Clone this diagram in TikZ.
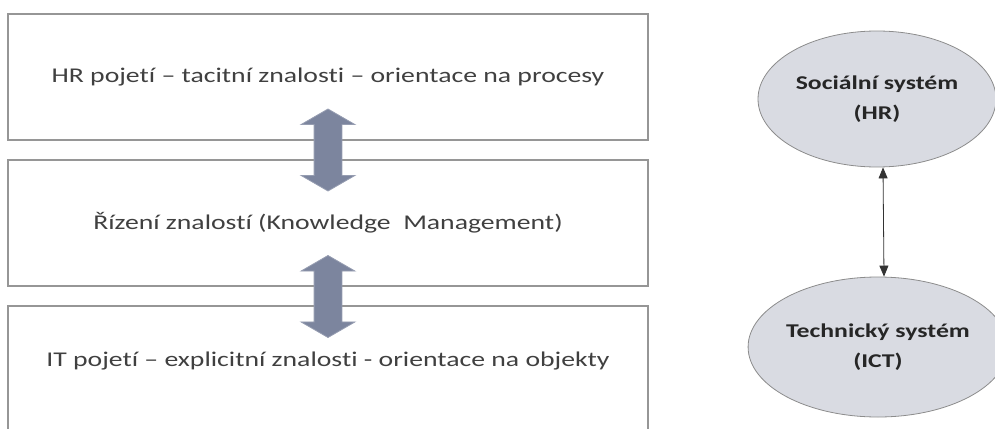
\documentclass[tikz,border=0pt]{standalone}
\usepackage{fontspec}
\setmainfont{Carlito}[Ligatures=NoCommon,FakeStretch=1.32]
\usetikzlibrary{shapes.geometric,shapes.arrows,arrows.meta}
\definecolor{boxline}{RGB}{150,150,150}
\definecolor{bigarrow}{RGB}{124,133,158}
\definecolor{ovalfill}{RGB}{217,219,226}
\definecolor{ovalline}{RGB}{140,140,140}
\definecolor{boxtext}{RGB}{64,64,64}
\tikzset{
  layerbox/.style={draw=boxline,line width=1.5pt,rectangle,minimum width=640pt,minimum height=126pt,inner sep=0pt,text=boxtext,font=\fontsize{21}{24}\selectfont},
  linkarrow/.style={double arrow,draw=bigarrow!80!white,line width=0.8pt,fill=bigarrow,inner sep=13.5pt,minimum height=82pt,double arrow head extend=13pt,double arrow tip angle=120,shape border rotate=90},
  systemoval/.style={ellipse,draw=ovalline,line width=0.8pt,fill=ovalfill,inner sep=0pt,align=center,font=\bfseries\fontsize{19.5}{30}\selectfont,text=black!85}
}
\begin{document}
\begin{tikzpicture}[x=1pt,y=-1pt]
\useasboundingbox (0,0) rectangle (995,428);
\clip (0,0) rectangle (995,428);
% three layers
\node[layerbox] (hr) at (328,77) {HR pojetí – tacitní znalosti – orientace na procesy};
\node[layerbox] (km) at (328,223) {Řízení znalostí (Knowledge~ Management)};
\node[layerbox,minimum height=134pt] (it) at (328,373) {};
\node[text=boxtext,font=\fontsize{21}{24}\selectfont] (ittext) at (328,361) {IT pojetí – explicitní znalosti - orientace na objekty};

\node[linkarrow] (a1) at (328,150) {};
\node[linkarrow] (a2) at (328,296.5) {};

% systems
\node[systemoval,minimum width=238pt,minimum height=136pt] (soc) at (877,99) {Sociální systém\\(HR)};
\node[systemoval,minimum width=236pt,minimum height=140pt] (tech) at (878,347) {Technický systém\\(ICT)};
\draw[line width=0.8pt,black!80,{Triangle[width=9pt,length=11pt]}-{Triangle[width=9pt,length=11pt]}] ([xshift=6pt]soc.south) -- ([xshift=6pt]tech.north);
\end{tikzpicture}
\end{document}
